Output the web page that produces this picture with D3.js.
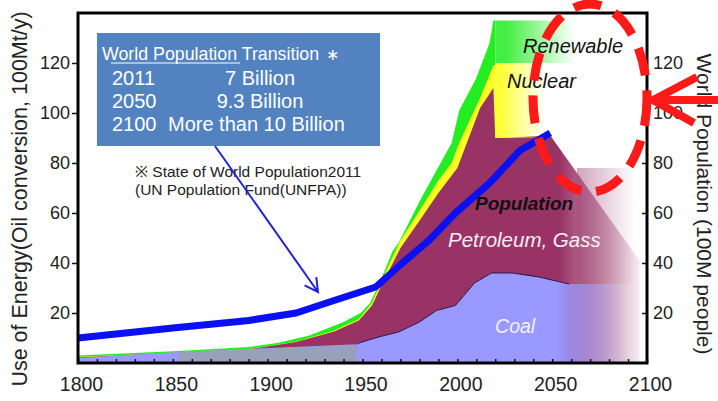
<!DOCTYPE html>
<html>
<head>
<meta charset="utf-8">
<script src="https://cdn.jsdelivr.net/npm/d3@7"></script>
<style>
  body { margin: 0; background: #fff; }
  svg { display: block; font-family: "Liberation Sans", Arial, sans-serif; }
</style>
</head>
<body>
<div id="chart"></div>
<script>
// stacked energy use, top edge of each layer [year, 100Mt oil eq.]
var renewable = [[1800,3],[1853,4.8],[1890,6.4],[1905,8],[1922,11],[1940,16.4],[1949,20],[1954,24],[1959,32],[1966,45],[1969,48],[1981,66],[1997,88],[2001,101],[2010,114],[2017,128],[2019,137],[2020,137]];
var nuclear = [[1800,2.4],[1853,4.2],[1890,5.6],[1915,8.5],[1935,13],[1948,17.5],[1955,24],[1960,33],[1970,49],[1981,62],[1990,73],[1997,80],[2001,88],[2012,106],[2019,119],[2020,119]];
var petroleum = [[1800,2.2],[1853,4.2],[1890,5.5],[1915,8.4],[1935,12.6],[1948,17],[1955,23],[1960,31],[1970,46],[1981,58],[1990,68],[2000,78],[2012,102],[2019,110],[2020,90],[2049,91],[2096,41]];
var coal = [[1800,2],[1853,4.4],[1890,5.6],[1947,7.5],[1948,8],[1959,10.5],[1969,12.4],[1980,16.4],[1989,21],[1999,23],[2009,32],[2018,36],[2029,36],[2043,34.4],[2059,31.6],[2098,31.6]];
var coalEarly = [[1853,4.4],[1947,7.2]];

// future bands [year, low, high]
var renewableFuture = [[2020,120,137],[2062,120,137]];
var nuclearFuture = [[2020,90,120],[2050,90,120]];
var petroleumFuture = [[2063,31.6,78],[2096,31.6,78]];

// world population, 100M people
var population = [[1800,10],[1850,14],[1890,17],[1915,20],[1935,25],[1957,30.4],[1971,40],[1985,49],[1999,60],[2017,72],[2033,85],[2049,92]];

var yearTicks = [1800,1850,1900,1950,2000,2050,2100];
var minorYears = d3.range(1800, 2101, 10);
var energyTicks = [20,40,60,80,100,120];
var popTicks = [20,40,60,80,100,120];

var boxRows = [["2011","7 Billion"],["2050","9.3 Billion"],["2100","More than 10 Billion"]];

var W = 718, H = 401;
var x = d3.scaleLinear().domain([1800,2100]).range([78,647]);
var y = d3.scaleLinear().domain([0,140]).range([363,13]);
var yPop = d3.scaleLinear().domain([0,140]).range([363,13]);

var svg = d3.select("#chart").append("svg")
  .attr("width", W)
  .attr("height", H);
var defs = svg.append("defs");

function fade(id, color, from, to, o0, o1) {
  var g = defs.append("linearGradient")
    .attr("id", id)
    .attr("gradientUnits", "userSpaceOnUse")
    .attr("x1", x(from)).attr("x2", x(to))
    .attr("y1", 0).attr("y2", 0);
  g.append("stop").attr("offset", 0).attr("stop-color", color).attr("stop-opacity", o0);
  g.append("stop").attr("offset", 1).attr("stop-color", color).attr("stop-opacity", o1);
}
fade("gPet", "#993366", 2054, 2098, 1, 0.05);
fade("gPetF", "#a24a78", 2063, 2094, 0.5, 0);
fade("gCoal", "#9999ff", 2052, 2090, 1, 0);
fade("gRen", "#44ee44", 2026, 2062, 1, 0);
fade("gNuc", "#ffff33", 2022, 2046, 1, 0);

var area = d3.area()
  .x(function(d) { return x(d[0]); })
  .y0(y(0))
  .y1(function(d) { return y(d[1]); });

var band = d3.area()
  .x(function(d) { return x(d[0]); })
  .y0(function(d) { return y(d[1]); })
  .y1(function(d) { return y(d[2]); });

var line = d3.line()
  .x(function(d) { return x(d[0]); })
  .y(function(d) { return y(d[1]); });

svg.append("path").datum(renewable).attr("d", area).style("fill", "#22ee22");
svg.append("path").datum(nuclear).attr("d", area).style("fill", "#ffff22");
svg.append("path").datum(petroleum).attr("d", area).style("fill", "url(#gPet)");
svg.append("path").datum(petroleumFuture).attr("d", band).style("fill", "url(#gPetF)");
svg.append("path").datum(coal).attr("d", area).style("fill", "url(#gCoal)");
svg.append("path").datum(coalEarly).attr("d", area).style("fill", "#98a0bc");
svg.append("path").datum(coal.filter(function(d) { return d[0] >= 1947 && d[0] <= 2059; }))
  .attr("d", line)
  .style("fill", "none")
  .style("stroke", "#2a1850")
  .style("stroke-width", 1);
svg.append("path").datum(renewableFuture).attr("d", band).style("fill", "url(#gRen)");
svg.append("path").datum(nuclearFuture).attr("d", band).style("fill", "url(#gNuc)");

// population line
svg.append("path")
  .datum(population)
  .attr("d", d3.line().x(function(d) { return x(d[0]); }).y(function(d) { return yPop(d[1]); }))
  .style("fill", "none")
  .style("stroke", "#0a10f0")
  .style("stroke-width", 7)
  .style("stroke-linejoin", "round");

// axes
var axL = svg.append("g")
  .attr("transform", "translate(" + x(1800) + ",0)")
  .call(d3.axisLeft(y).tickValues(energyTicks).tickSize(6).tickPadding(2));
var axR = svg.append("g")
  .attr("transform", "translate(" + x(2100) + ",0)")
  .call(d3.axisRight(yPop).tickValues(popTicks).tickSize(-5).tickPadding(6));
var axB = svg.append("g")
  .attr("transform", "translate(0," + y(0) + ")")
  .call(d3.axisBottom(x).tickValues(yearTicks).tickSize(0).tickPadding(14).tickFormat(d3.format("d")));
var axM = svg.append("g")
  .attr("transform", "translate(0," + y(0) + ")")
  .call(d3.axisBottom(x).tickValues(minorYears).tickSize(-4).tickFormat(""));

[axL, axR, axB, axM].forEach(function(a) {
  a.select(".domain").remove();
  a.selectAll("line").style("stroke", "#111").style("stroke-width", 1.5);
  a.selectAll("text").style("font-size", "18px").style("fill", "#222");
});
axB.selectAll("text").style("font-size", "19.5px").attr("dx", 3);

svg.append("rect")
  .attr("x", x(1800)).attr("y", y(140))
  .attr("width", x(2100) - x(1800)).attr("height", y(0) - y(140))
  .style("fill", "none")
  .style("stroke", "#000")
  .style("stroke-width", 3);

// axis titles
svg.append("text")
  .attr("transform", "translate(27,199) rotate(-90)")
  .attr("text-anchor", "middle")
  .style("font-size", "21.5px")
  .style("fill", "#222")
  .text("Use of Energy(Oil conversion, 100Mt/y)");
svg.append("text")
  .attr("transform", "translate(697,204) rotate(90)")
  .attr("text-anchor", "middle")
  .style("font-size", "21px")
  .style("fill", "#222")
  .text("World Population (100M people)");

// layer labels
function label(t, yr, v, col, size, weight) {
  return svg.append("text")
    .attr("x", x(yr)).attr("y", y(v))
    .style("font-size", size + "px")
    .style("font-style", "italic")
    .style("font-weight", weight || "normal")
    .style("fill", col)
    .text(t);
}
label("Renewable", 2034.6, 124, "#111", 20);
label("Nuclear", 2026.2, 110, "#111", 20);
label("Population", 2009.3, 61.2, "#111", 19, "bold");
label("Petroleum, Gass", 1995.1, 46.4, "#f6ecf4", 20.5);
label("Coal", 2019.9, 12, "#f4f0ff", 19.5);

// info box
var box = svg.append("g");
box.append("rect")
  .attr("x", 97).attr("y", 33)
  .attr("width", 283).attr("height", 113)
  .style("fill", "#5282c0");
box.append("text")
  .attr("x", 102).attr("y", 60)
  .style("font-size", "17.8px").style("fill", "#fff")
  .text("World Population Transition");
box.append("text")
  .attr("x", 326).attr("y", 60)
  .style("font-size", "16px").style("fill", "#fff")
  .text("\u2217");
box.append("line")
  .attr("x1", 111).attr("x2", 240).attr("y1", 63).attr("y2", 63)
  .style("stroke", "#fff").style("stroke-width", 1);
boxRows.forEach(function(r, i) {
  box.append("text")
    .attr("x", 112).attr("y", 85 + i * 23)
    .style("font-size", "20px").style("fill", "#fff")
    .text(r[0]);
  box.append("text")
    .attr("x", i < 2 ? 260 : 168).attr("y", 85 + i * 23)
    .attr("text-anchor", i < 2 ? "middle" : "start")
    .style("font-size", "20px").style("fill", "#fff")
    .text(r[1]);
});

svg.append("text")
  .attr("x", 135).attr("y", 177)
  .style("font-size", "15.5px").style("fill", "#222")
  .text("\u203b State of World Population2011");
svg.append("text")
  .attr("x", 135).attr("y", 195)
  .style("font-size", "15.5px").style("fill", "#222")
  .text("(UN Population Fund(UNFPA))");

// pointer from box to the curve
var p0 = [215, 146], p1 = [318, 292];
var ang = Math.atan2(p1[1] - p0[1], p1[0] - p0[0]);
var wing = 15, spread = 0.5;
svg.append("path")
  .attr("d", "M" + p0 + "L" + p1 +
    "M" + [p1[0] - wing * Math.cos(ang - spread), p1[1] - wing * Math.sin(ang - spread)] + "L" + p1 +
    "L" + [p1[0] - wing * Math.cos(ang + spread), p1[1] - wing * Math.sin(ang + spread)])
  .style("fill", "none")
  .style("stroke", "#2222d8")
  .style("stroke-width", 2);

// red highlight
svg.append("ellipse")
  .attr("cx", 590).attr("cy", 98)
  .attr("rx", 57).attr("ry", 94)
  .style("fill", "none")
  .style("stroke", "#ff1a1a")
  .style("stroke-width", 9)
  .style("stroke-dasharray", "28,15");
svg.append("path")
  .attr("d", "M718,100L653,100M697,77L653,100L694,123")
  .style("fill", "none")
  .style("stroke", "#ff1a1a")
  .style("stroke-width", 8);
</script>
</body>
</html>
